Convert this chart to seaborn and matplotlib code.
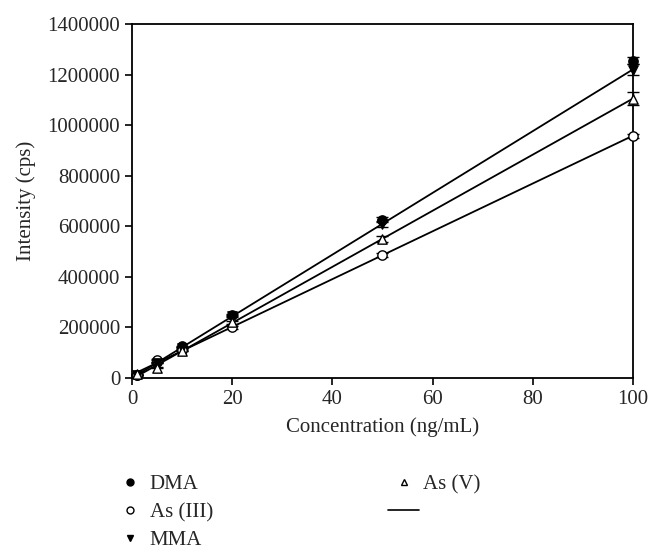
import numpy as np
import matplotlib
matplotlib.use("Agg")
import matplotlib.pyplot as plt
import matplotlib.ticker as mticker
from matplotlib.lines import Line2D
import seaborn as sns

# concentrations (ng/mL)
conc = [1, 5, 10, 20, 50, 100]

# intensities (cps)
dma = [12000, 62000, 125000, 250000, 625000, 1255000]
as3 = [10000, 72000, 110000, 200000, 485000, 958000]
mma = [12000, 60000, 120000, 245000, 610000, 1220000]
as5 = [15000, 40000, 108000, 220000, 550000, 1105000]

# standard deviations (only visible at the top points)
dma_err = [1000, 2000, 3000, 5000, 10000, 15000]
as3_err = [1000, 2000, 3000, 5000, 8000, 8000]
mma_err = [1000, 2000, 3000, 5000, 12000, 20000]
as5_err = [1000, 2000, 3000, 5000, 12000, 25000]

sns.set_style("ticks")
plt.rcParams['font.family'] = ['Liberation Serif', 'DejaVu Serif']

fig = plt.figure(figsize=(6.62, 5.58), dpi=100)
ax = fig.add_axes([0.1994, 0.3226, 0.7566, 0.6344])

series = [
    ("DMA", dma, dma_err, "o", "black"),
    ("As (III)", as3, as3_err, "o", "white"),
    ("MMA", mma, mma_err, "v", "black"),
    ("As (V)", as5, as5_err, "^", "white"),
]

for name, vals, err, mk, fc in series:
    # linear trend line
    sns.regplot(x=conc, y=vals, ax=ax, ci=None, scatter=False, truncate=False,
                color="black", line_kws=dict(lw=1.3), order=1)
    ax.errorbar(conc, vals, yerr=err, fmt="none", ecolor="black",
                elinewidth=1, capsize=4, capthick=1, zorder=3, clip_on=False)
    sns.scatterplot(x=conc, y=vals, ax=ax, marker=mk, s=45, color=fc,
                    edgecolor="black", linewidth=1, zorder=4, clip_on=False)

ax.set_xlim(0, 100)
ax.set_ylim(0, 1400000)
ax.set_xticks([0, 20, 40, 60, 80, 100])
ax.set_yticks(np.arange(0, 1400001, 200000))
ax.yaxis.set_major_formatter(mticker.FuncFormatter(lambda v, p: f"{int(v)}"))
ax.tick_params(direction="out", length=5, width=1.2, labelsize=15, color="black")
for sp in ax.spines.values():
    sp.set_linewidth(1.3)
    sp.set_color("black")
ax.set_xlabel("Concentration (ng/mL)", fontsize=15, labelpad=6)
ax.set_ylabel("Intensity (cps)", fontsize=15, labelpad=8)

handles = [
    Line2D([], [], ls="none", marker="o", ms=5, mfc="black", mec="black"),
    Line2D([], [], ls="none", marker="o", ms=5, mfc="white", mec="black"),
    Line2D([], [], ls="none", marker="v", ms=5, mfc="black", mec="black"),
    Line2D([], [], ls="none", marker="^", ms=5, mfc="white", mec="black"),
    Line2D([], [], color="black", lw=1.2),
]
labels = ["DMA", "As (III)", "MMA", "As (V)", ""]
fig.legend(handles, labels, ncol=2, loc="upper left", bbox_to_anchor=(0.16, 0.164),
           frameon=False, fontsize=15, handlelength=1.5, handletextpad=0.2,
           columnspacing=8.4, labelspacing=0.39, borderaxespad=0)

fig.savefig("out.png", dpi=100)
